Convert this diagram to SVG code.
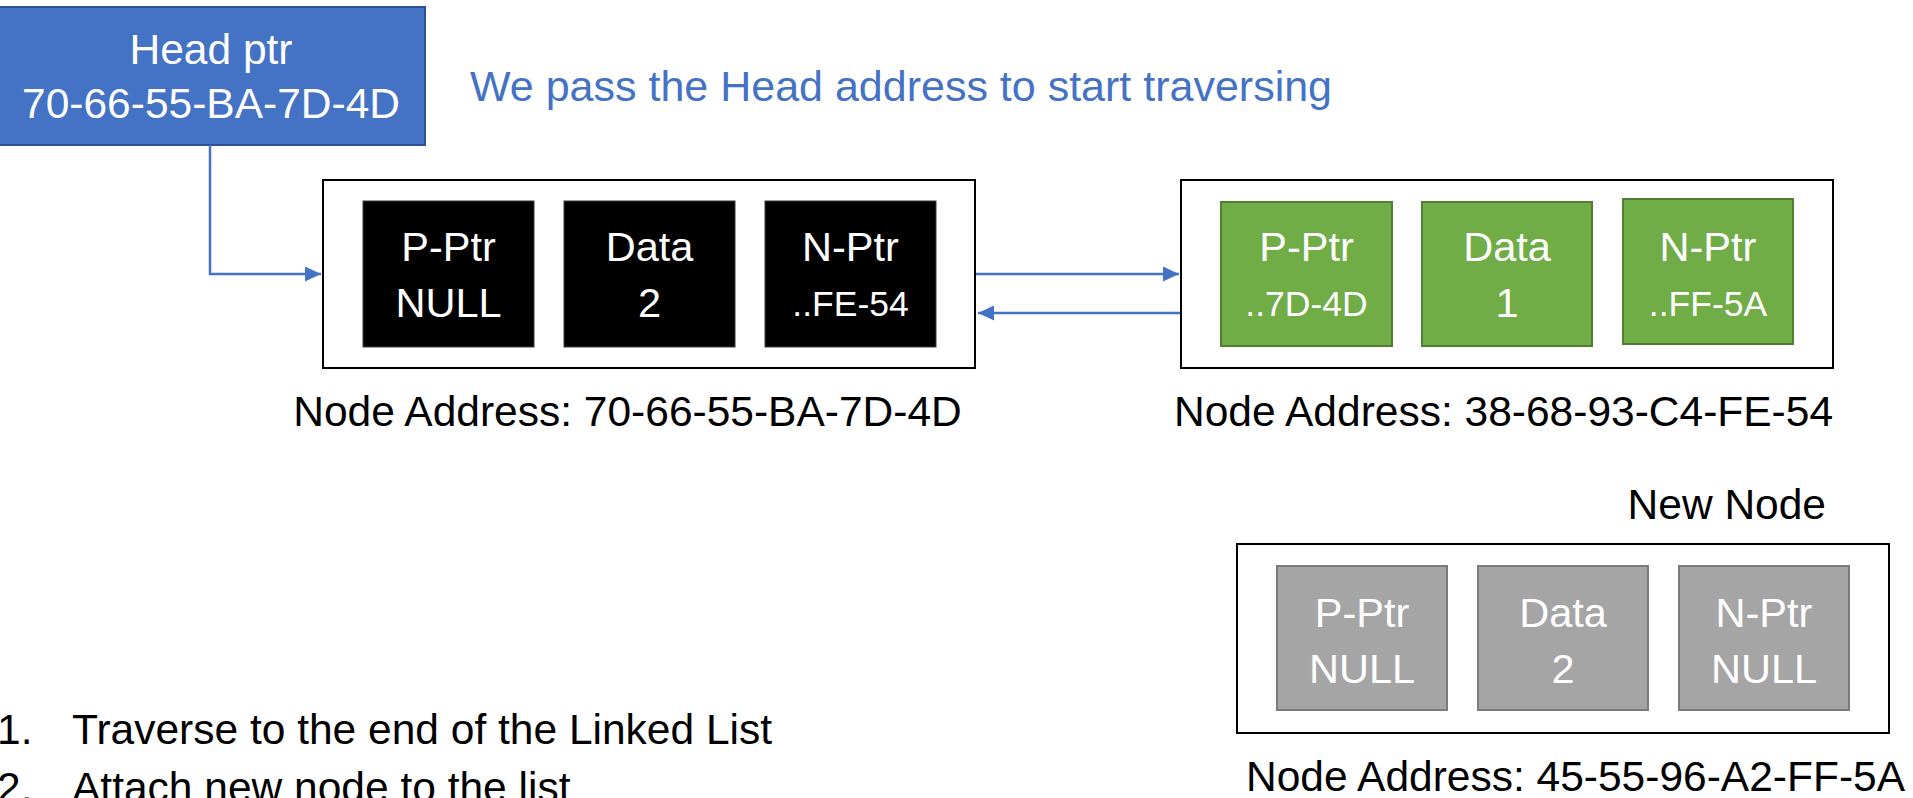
<svg xmlns="http://www.w3.org/2000/svg" width="1913" height="798" viewBox="0 0 1913 798">
<style>
text{font-family:"Liberation Sans",Arial,sans-serif}
.lbl{font-size:42.5px;fill:#000}
.blue{font-size:43px;fill:#4472C4}
.hd{font-size:42.5px;fill:#fff;text-anchor:middle}
.c1{font-size:41.5px;fill:#fff;text-anchor:middle}
.c2{font-size:35.5px;fill:#fff;text-anchor:middle}
.outer{fill:#fff;stroke:#000;stroke-width:2}
.blk{fill:#000;stroke:#3a3a3a;stroke-width:1}
.grn{fill:#70AD47;stroke:#507E32;stroke-width:2}
.gry{fill:#A5A5A5;stroke:#7B7B7B;stroke-width:2}
.con{fill:none;stroke:#4472C4;stroke-width:2.5}
</style>
<defs>
<marker id="ah" markerUnits="userSpaceOnUse" markerWidth="17" markerHeight="16" refX="16" refY="7.5" orient="auto">
<path d="M0,0 L16,7.5 L0,15 z" fill="#4472C4"/>
</marker>
</defs>
<rect width="1913" height="798" fill="#fff"/>

<g id="head">
<rect x="-3" y="7" width="428" height="138" fill="#4472C4" stroke="#2F528F" stroke-width="2"/>
<text class="hd" x="211" y="64">Head ptr</text>
<text class="hd" x="211" y="118">70-66-55-BA-7D-4D</text>
</g>

<text class="blue" x="470" y="101">We pass the Head address to start traversing</text>

<g id="connectors">
<path class="con" d="M210,145 V274 H321" marker-end="url(#ah)"/>
<path class="con" d="M976,274 H1179" marker-end="url(#ah)"/>
<path class="con" d="M1181,313 H978" marker-end="url(#ah)"/>
</g>

<g id="node1">
<rect class="outer" x="323" y="180" width="652" height="188"/>
<rect class="blk" x="363" y="201" width="171" height="146"/>
<rect class="blk" x="564" y="201" width="171" height="146"/>
<rect class="blk" x="765" y="201" width="171" height="146"/>
<text class="c1" x="448.5" y="261">P-Ptr</text>
<text class="c1" x="448.5" y="317">NULL</text>
<text class="c1" x="649.5" y="261">Data</text>
<text class="c1" x="649.5" y="317">2</text>
<text class="c1" x="850.5" y="261">N-Ptr</text>
<text class="c2" x="850.5" y="316">..FE-54</text>
<text class="lbl" x="627.5" y="426" text-anchor="middle">Node Address: 70-66-55-BA-7D-4D</text>
</g>

<g id="node2">
<rect class="outer" x="1181" y="180" width="652" height="188"/>
<rect class="grn" x="1221" y="202" width="171" height="144"/>
<rect class="grn" x="1422" y="202" width="170" height="144"/>
<rect class="grn" x="1623" y="199" width="170" height="145"/>
<text class="c1" x="1306.5" y="261">P-Ptr</text>
<text class="c2" x="1306.5" y="316">..7D-4D</text>
<text class="c1" x="1507" y="261">Data</text>
<text class="c1" x="1507" y="317">1</text>
<text class="c1" x="1708" y="261">N-Ptr</text>
<text class="c2" x="1708" y="316">..FF-5A</text>
<text class="lbl" x="1503.5" y="426" text-anchor="middle">Node Address: 38-68-93-C4-FE-54</text>
</g>

<g id="newnode">
<text class="lbl" x="1826" y="519" text-anchor="end">New Node</text>
<rect class="outer" x="1237" y="544" width="652" height="189"/>
<rect class="gry" x="1277" y="566" width="170" height="144"/>
<rect class="gry" x="1478" y="566" width="170" height="144"/>
<rect class="gry" x="1679" y="566" width="170" height="144"/>
<text class="c1" x="1362" y="627">P-Ptr</text>
<text class="c1" x="1362" y="683">NULL</text>
<text class="c1" x="1563" y="627">Data</text>
<text class="c1" x="1563" y="683">2</text>
<text class="c1" x="1764" y="627">N-Ptr</text>
<text class="c1" x="1764" y="683">NULL</text>
<text class="lbl" x="1575.5" y="791" text-anchor="middle">Node Address: 45-55-96-A2-FF-5A</text>
</g>

<g id="steps">
<text class="lbl" x="-3" y="744">1.</text>
<text class="lbl" x="72" y="744">Traverse to the end of the Linked List</text>
<text class="lbl" x="-3" y="802">2.</text>
<text class="lbl" x="72" y="802">Attach new node to the list</text>
</g>
</svg>
